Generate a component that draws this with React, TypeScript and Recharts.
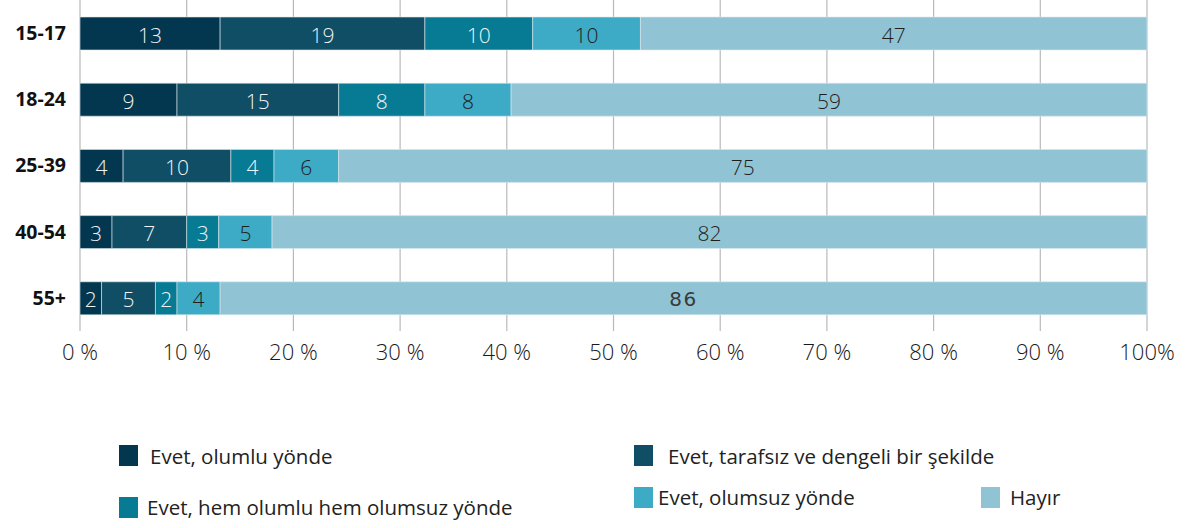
import { BarChart, Bar, XAxis, YAxis, CartesianGrid, LabelList } from 'recharts';

const ageGroups = ['15-17', '18-24', '25-39', '40-54', '55+'];
const olumlu = [13, 9, 4, 3, 2];
const tarafsiz = [19, 15, 10, 7, 5];
const hemOlumluHemOlumsuz = [10, 8, 4, 3, 2];
const olumsuz = [10, 8, 6, 5, 4];
const hayir = [47, 59, 75, 82, 86];
const xTicks = [0, 0.1, 0.2, 0.3, 0.4, 0.5, 0.6, 0.7, 0.8, 0.9, 1];

const seriesNames = [
  'Evet, olumlu yönde',
  'Evet, tarafsız ve dengeli bir şekilde',
  'Evet, hem olumlu hem olumsuz yönde',
  'Evet, olumsuz yönde',
  'Hayır',
];
const colors = ['#03364f', '#104e65', '#077b93', '#3daac6', '#90c4d4'];

const data = ageGroups.map((age, i) => ({
  age,
  olumlu: olumlu[i],
  tarafsiz: tarafsiz[i],
  hemHem: hemOlumluHemOlumsuz[i],
  olumsuz: olumsuz[i],
  hayir: hayir[i],
}));

const FONT = '"Open Sans", "Noto Sans", sans-serif';

// etiket: koyu dilimlerde beyaz, açıklarda koyu yazı
const makeLabel = (idx: number) => (props: any) => {
  const { x, y, width, height, value } = props;
  const light = idx < 3;
  const odd = value === 86; // kaynak grafikte farklı yazı tipiyle
  return (
    <text
      x={x + width / 2}
      y={y + height / 2 + 1}
      textAnchor="middle"
      dominantBaseline="central"
      fill={light ? '#eef3f6' : odd ? '#3a3a3a' : '#1e1e1e'}
      fontSize={odd ? 20 : 21}
      fontWeight={odd ? 400 : 300}
      letterSpacing={odd ? 1.5 : 0}
      fontFamily={odd ? '"DejaVu Sans", sans-serif' : FONT}
    >
      {value}
    </text>
  );
};

const legendItems = [
  { i: 0, sx: 119, sy: 445, tx: 150, ty: 456 },
  { i: 1, sx: 634, sy: 445, tx: 668, ty: 456 },
  { i: 2, sx: 119, sy: 497, tx: 147, ty: 507 },
  { i: 3, sx: 634, sy: 487, tx: 658, ty: 497 },
  { i: 4, sx: 981, sy: 487, tx: 1010, ty: 497 },
];

const barProps = {
  stackId: 'a',
  stroke: '#dbe7ec',
  strokeWidth: 0.6,
  barSize: 33,
  isAnimationActive: false,
};

export default function App() {
  return (
    <div
      style={{
        position: 'absolute',
        left: 0,
        top: 0,
        width: 1191,
        height: 528,
        background: '#fff',
        fontFamily: FONT,
      }}
    >
      <BarChart
        width={1191}
        height={380}
        data={data}
        layout="vertical"
        stackOffset="expand"
        margin={{ top: 0, right: 44, left: 0, bottom: 0 }}
      >
        <CartesianGrid horizontal={false} stroke="#b9b9b9" strokeWidth={1.2} />
        <XAxis
          type="number"
          domain={[0, 1]}
          ticks={xTicks}
          axisLine={false}
          tickLine={false}
          tickSize={0}
          tickMargin={13}
          height={49}
          interval={0}
          tick={{ fill: '#1a1a1a', fontSize: 22, fontWeight: 300, fontFamily: FONT }}
          tickFormatter={(v: number) => (v === 1 ? '100%' : `${Math.round(v * 100)} %`)}
        />
        <YAxis
          type="category"
          dataKey="age"
          width={80}
          axisLine={false}
          tickLine={false}
          tickSize={0}
          tickMargin={14}
          tick={{ fill: '#111', fontSize: 19.5, fontWeight: 700, fontFamily: FONT }}
        />
        <Bar dataKey="olumlu" name={seriesNames[0]} fill={colors[0]} {...barProps}>
          <LabelList dataKey="olumlu" content={makeLabel(0)} />
        </Bar>
        <Bar dataKey="tarafsiz" name={seriesNames[1]} fill={colors[1]} {...barProps}>
          <LabelList dataKey="tarafsiz" content={makeLabel(1)} />
        </Bar>
        <Bar dataKey="hemHem" name={seriesNames[2]} fill={colors[2]} {...barProps}>
          <LabelList dataKey="hemHem" content={makeLabel(2)} />
        </Bar>
        <Bar dataKey="olumsuz" name={seriesNames[3]} fill={colors[3]} {...barProps}>
          <LabelList dataKey="olumsuz" content={makeLabel(3)} />
        </Bar>
        <Bar dataKey="hayir" name={seriesNames[4]} fill={colors[4]} {...barProps}>
          <LabelList dataKey="hayir" content={makeLabel(4)} />
        </Bar>
      </BarChart>

      {legendItems.map((it) => (
        <div key={it.i}>
          <div
            style={{
              position: 'absolute',
              left: it.sx,
              top: it.sy,
              width: 19,
              height: 21,
              background: colors[it.i],
            }}
          />
          <div
            style={{
              position: 'absolute',
              left: it.tx,
              top: it.ty - 14,
              height: 28,
              lineHeight: '28px',
              fontSize: 20.5,
              fontWeight: 500,
              color: '#222',
              whiteSpace: 'nowrap',
            }}
          >
            {seriesNames[it.i]}
          </div>
        </div>
      ))}
    </div>
  );
}
